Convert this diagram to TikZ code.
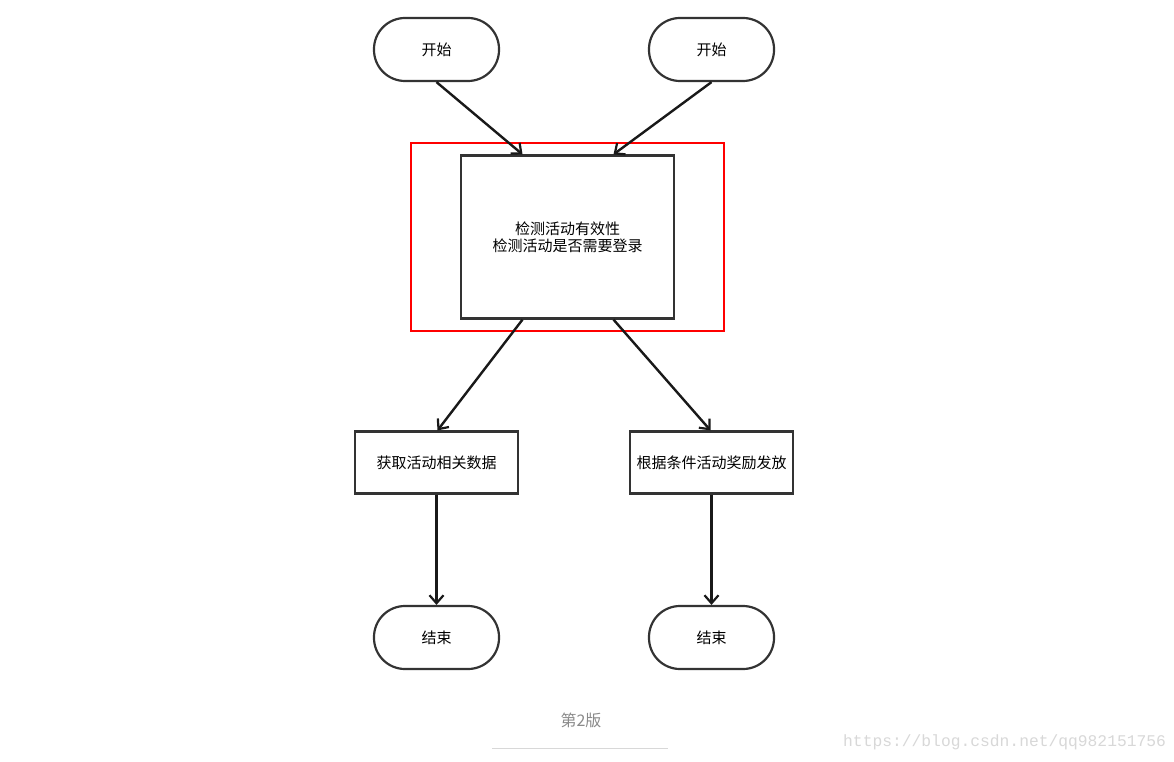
\documentclass[tikz,border=0pt]{standalone}
\usepackage{fontspec}
\setmainfont{Noto Sans CJK SC}
\newfontfamily\wmfont{Liberation Mono}
\usetikzlibrary{arrows.meta}
\definecolor{edge}{HTML}{333333}
\definecolor{capgray}{HTML}{8A8A8A}
\definecolor{wmgray}{HTML}{D8D8D8}
\tikzset{
  terminal/.style={draw=edge, line width=2.2pt, rounded corners=31pt, minimum width=125pt, minimum height=63pt, inner sep=0pt, font=\fontsize{15}{17}\selectfont},
  procbox/.style={draw=edge, line width=2.2pt, minimum width=163pt, minimum height=62pt, inner sep=0pt, font=\fontsize{15}{17}\selectfont},
  flow/.style={draw=black!90, line width=2.4pt, -{Straight Barb[length=8pt,width=14pt,line width=2.2pt]}},
}
\begin{document}
\begin{tikzpicture}[x=1pt,y=-1pt]
\useasboundingbox (0,0) rectangle (1174,762);
\fill[white] (0,0) rectangle (1174,762);

\node[terminal] (s1) at (436.5,49.5) {开始};
\node[terminal] (s2) at (711.5,49.5) {开始};

\node[draw=red, line width=2.2pt, minimum width=313pt, minimum height=188pt, inner sep=0pt] (hl) at (567.5,237) {};
\node[draw=edge, line width=2.2pt, minimum width=213pt, minimum height=163pt, inner sep=0pt, align=center, font=\fontsize{15}{17}\selectfont] (chk) at (567.5,237) {检测活动有效性\\检测活动是否需要登录};

\node[procbox] (a1) at (436.5,462.5) {获取活动相关数据};
\node[procbox] (a2) at (711.5,462.5) {根据条件活动奖励发放};

\node[terminal] (e1) at (436.5,637.5) {结束};
\node[terminal] (e2) at (711.5,637.5) {结束};

\draw[flow] (s1.south) -- ([xshift=-45pt]chk.north);
\draw[flow] (s2.south) -- ([xshift=46pt]chk.north);
\draw[flow] ([xshift=-45pt]chk.south) -- ([xshift=1pt]a1.north);
\draw[flow] ([xshift=46pt]chk.south) -- ([xshift=-1pt]a2.north);
\draw[flow] (a1.south) -- (e1.north);
\draw[flow] (a2.south) -- (e2.north);

\node[text=capgray, font=\fontsize{16}{18}\selectfont] (cap) at (581,720) {第2版};
\coordinate (ul1) at (492,748);
\coordinate (ul2) at (668,748);
\draw[wmgray, line width=1pt] (ul1) -- (ul2);
\node[text=wmgray, font=\wmfont\fontsize{16.3}{18}\selectfont, anchor=west, inner sep=0pt] (wm) at (843,742) {https://blog.csdn.net/qq982151756};
\end{tikzpicture}
\end{document}
